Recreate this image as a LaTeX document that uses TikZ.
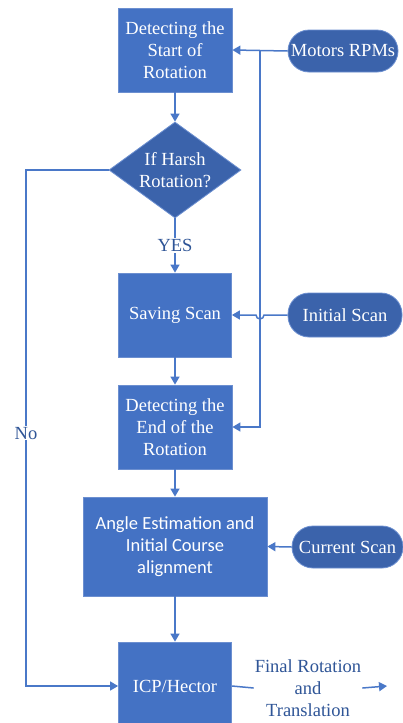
\documentclass[tikz,border=0pt]{standalone}
\usepackage{fontspec}
\setmainfont{Liberation Serif}
\newfontfamily\timesf{Liberation Serif}
\newfontfamily\calib{Carlito}
\usetikzlibrary{arrows.meta,shapes.geometric}
\definecolor{boxblue}{HTML}{4472C4}
\definecolor{darkblue}{HTML}{3B63AB}
\definecolor{edgeblue}{HTML}{6C8FD0}
\definecolor{lineblue}{HTML}{4A78C8}
\definecolor{txtblue}{HTML}{2F5597}
\begin{document}
\begin{tikzpicture}[x=1pt,y=-1pt,
  font=\timesf\fontsize{18.5}{22}\selectfont,
  procbox/.style={rectangle,fill=boxblue,draw=edgeblue,line width=0.8pt,text=white,align=center,inner sep=0pt},
  pill/.style={rectangle,rounded corners=21pt,fill=darkblue,draw=edgeblue,line width=0.8pt,text=white,align=center,inner sep=0pt},
  decide/.style={diamond,fill=darkblue,draw=edgeblue,line width=0.8pt,text=white,align=center,inner sep=0pt,aspect=1.375},
  conn/.style={draw=lineblue,line width=1.5pt},
  arr/.style={conn,-{Triangle[length=8pt,width=9pt]}},
  lbl/.style={text=txtblue,fill=white,align=center,inner sep=1pt}]
\useasboundingbox (0,0) rectangle (403,723);
\fill[white] (0,0) rectangle (403,723);
\node[procbox,minimum width=114pt,minimum height=84pt] (start) at (175,50) {Detecting the\\Start of\\Rotation};
\node[pill,minimum width=110pt,minimum height=42pt] (motors) at (343,51) {Motors RPMs};
\node[decide,minimum width=132pt,minimum height=96pt] (harsh) at (175,170) {If Harsh\\Rotation?};
\node[procbox,minimum width=113pt,minimum height=84pt] (save) at (175,315) {Saving Scan};
\node[pill,minimum width=114pt,minimum height=44pt] (init) at (345,315) {Initial Scan};
\node[procbox,minimum width=114pt,minimum height=84pt] (endr) at (175,427) {Detecting the\\End of the\\Rotation};
\node[procbox,minimum width=184pt,minimum height=99pt,font=\calib\fontsize{18.5}{22}\selectfont] (angle) at (175,546.5) {Angle Estimation and\\Initial Course\\alignment};
\node[pill,minimum width=111pt,minimum height=42pt] (cur) at (347.5,547) {Current Scan};
\node[procbox,minimum width=113pt,minimum height=88pt] (icp) at (175,686) {ICP/Hector};
\node[lbl] (out) at (308,688) {Final Rotation\\and\\Translation};
\coordinate (j) at (260,51);
\coordinate (nol) at (26,170);
\coordinate (oe) at (387,686);
% connectors
\draw[arr] (motors.west) -- (start.east);
\draw[arr] (j) |- (endr.east);
\draw[arr] (start.south) -- (harsh.north);
\draw[arr] (harsh.south) -- node[lbl] {YES} (save.north);
\draw[arr] (init.west) -- (264,315) arc (0:180:4) -- (save.east);
\draw[arr] (save.south) -- (endr.north);
\draw[arr] (endr.south) -- (angle.north);
\draw[arr] (cur.west) -- (angle.east);
\draw[arr] (angle.south) -- (icp.north);
\draw[arr] (harsh.west) -- (nol) |- node[lbl,pos=0.255] {No} (icp.west);
\draw[conn] (icp.east) -- (out.west);
\draw[arr] (out.east) -- (oe);
\end{tikzpicture}
\end{document}
